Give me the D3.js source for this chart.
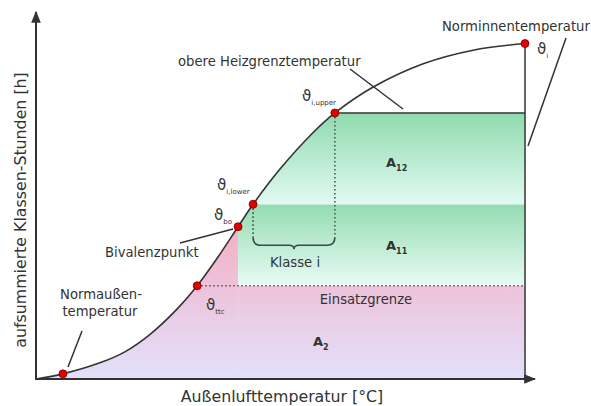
<!DOCTYPE html>
<html>
<head>
<meta charset="utf-8">
<script src="https://cdn.jsdelivr.net/npm/d3@7"></script>
<style>
  body { margin: 0; background: #fff; }
  svg { display: block; font-family: "DejaVu Sans", Verdana, sans-serif; }
  text { fill: #333; }
</style>
</head>
<body>
<svg id="chart" width="591" height="406"></svg>
<script>
// summed class hours over outdoor temperature (abstract units 0..100)
const curveT = [0, 5.4, 12.8, 17.8, 22.8, 28.3, 32.3, 36.3, 40.5, 43.5, 48.9, 55.5, 59.9, 67.5, 77.6, 87.6, 98.0];
const curveH = [0, 1.4, 4.4, 7.4, 12.1, 19.1, 25.4, 32.9, 41.5, 47.6, 57.2, 67.1, 72.5, 79.5, 85.9, 89.6, 91.4];
// marked points: Normaussen, Einsatzgrenze, Bivalenz, i,lower, i,upper, Norminnen
const markIdx = [1, 6, 8, 9, 12, 16];
const tEbc = curveT[6], hEbc = curveH[6];
const tBo = curveT[8], hBo = curveH[8];
const tLow = curveT[9], hLow = curveH[9];
const tUp = curveT[12], hUp = curveH[12];
const tIn = curveT[16], hIn = curveH[16];

const svg = d3.select('#chart');
const x = d3.scaleLinear().domain([0, 100]).range([36, 535]);
const y = d3.scaleLinear().domain([0, 100]).range([379, 12]);
const pts = curveT.map((t, i) => [t, curveH[i]]);

const defs = svg.append('defs');
function grad(id, y1, y2, c1, c2){
    let g = defs.append('linearGradient').attr('id', id)
        .attr('gradientUnits', 'userSpaceOnUse')
        .attr('x1', 0).attr('x2', 0).attr('y1', y1).attr('y2', y2);
    g.append('stop').attr('offset', 0).attr('stop-color', c1);
    g.append('stop').attr('offset', 1).attr('stop-color', c2);
}
grad('gPink', y(hBo), y(0), '#f4b0c6', '#e3e0fb');
grad('gA11', y(hLow), y(hEbc), '#94dcb0', '#e8fbf6');
grad('gA12', y(hUp), y(hLow), '#8fdaad', '#e2faf3');

// clip = area under curve
const area = d3.area().x(d => x(d[0])).y0(y(0)).y1(d => y(d[1])).curve(d3.curveCatmullRom);
defs.append('clipPath').attr('id', 'under').append('path').datum(pts).attr('d', area);

const fills = svg.append('g').attr('clip-path', 'url(#under)');
function band(t0, t1, h0, h1, fill){
    fills.append('rect')
        .attr('x', x(t0)).attr('width', x(t1) - x(t0))
        .attr('y', y(h1)).attr('height', y(h0) - y(h1))
        .attr('fill', fill);
}
band(0, tBo, 0, 100, 'url(#gPink)');
band(tBo, tIn, 0, hEbc, 'url(#gPink)');
band(tBo, tIn, hEbc, hLow, 'url(#gA11)');
band(tBo, tIn, hLow, hUp, 'url(#gA12)');

// dotted helper lines
const dot = svg.append('g').attr('stroke', '#4a5a50').attr('stroke-width', 1.6).attr('stroke-dasharray', '1.6,2.4').attr('fill', 'none');
dot.append('line').attr('x1', x(tEbc)).attr('x2', x(tIn)).attr('y1', y(hEbc)).attr('y2', y(hEbc)).attr('stroke', '#6a5060');
const braceY = y(hLow) + 41;
dot.append('line').attr('x1', x(tLow)).attr('x2', x(tLow)).attr('y1', y(hLow)).attr('y2', braceY - 8);
dot.append('line').attr('x1', x(tUp)).attr('x2', x(tUp)).attr('y1', y(hUp)).attr('y2', braceY - 8);

// curly brace "Klasse i"
const bx0 = x(tLow), bx1 = x(tUp), bm = (bx0 + bx1) / 2;
svg.append('path')
    .attr('d', `M${bx0},${braceY - 8} Q${bx0},${braceY} ${bx0 + 8},${braceY} L${bm - 5},${braceY} Q${bm},${braceY} ${bm},${braceY + 4} Q${bm},${braceY} ${bm + 5},${braceY} L${bx1 - 8},${braceY} Q${bx1},${braceY} ${bx1},${braceY - 8}`)
    .attr('fill', 'none').attr('stroke', '#3d4a42').attr('stroke-width', 1.6);

// solid lines
const ink = '#333';
svg.append('line').attr('x1', x(tUp)).attr('x2', x(tIn)).attr('y1', y(hUp)).attr('y2', y(hUp))
    .attr('stroke', ink).attr('stroke-width', 1.5);
svg.append('line').attr('x1', x(tIn)).attr('x2', x(tIn)).attr('y1', y(hIn)).attr('y2', y(0))
    .attr('stroke', ink).attr('stroke-width', 1.5);
const line = d3.line().x(d => x(d[0])).y(d => y(d[1])).curve(d3.curveCatmullRom);
svg.append('path').datum(pts).attr('d', line).attr('fill', 'none').attr('stroke', ink).attr('stroke-width', 1.6);

// axes with arrows
defs.append('marker').attr('id', 'arr').attr('viewBox', '0 0 10 10').attr('refX', 9).attr('refY', 5)
    .attr('markerWidth', 6).attr('markerHeight', 6).attr('orient', 'auto')
    .append('path').attr('d', 'M0,1 L10,5 L0,9 Z').attr('fill', ink);
svg.append('line').attr('x1', x(0)).attr('x2', x(0)).attr('y1', y(0) + 1).attr('y2', y(100))
    .attr('stroke', ink).attr('stroke-width', 2).attr('marker-end', 'url(#arr)');
svg.append('line').attr('x1', x(0) - 1).attr('x2', x(100)).attr('y1', y(0)).attr('y2', y(0))
    .attr('stroke', ink).attr('stroke-width', 2).attr('marker-end', 'url(#arr)');

// leader lines
const leaders = [
    [350, 69, 403, 109],
    [566, 38, 528, 146],
    [180, 243, 233, 229],
    [82, 331, 68, 367]
];
svg.append('g').selectAll('line').data(leaders).join('line')
    .attr('x1', d => d[0]).attr('y1', d => d[1]).attr('x2', d => d[2]).attr('y2', d => d[3])
    .attr('stroke', ink).attr('stroke-width', 1.5);

// red points
svg.append('g').selectAll('circle').data(markIdx).join('circle')
    .attr('cx', i => x(curveT[i])).attr('cy', i => y(curveH[i])).attr('r', 4)
    .attr('fill', '#e10000').attr('stroke', '#7a0000').attr('stroke-width', 0.8);

// texts
function label(tx, ty, s, size, anchor){
    return svg.append('text').attr('x', tx).attr('y', ty).attr('font-size', size)
        .attr('text-anchor', anchor || 'start').text(s);
}
function sym(tx, ty, base, sub, size, subSize){
    let t = svg.append('text').attr('x', tx).attr('y', ty).attr('font-size', size);
    t.append('tspan').text(base);
    t.append('tspan').attr('dy', 4).attr('font-size', subSize).text(sub);
    return t;
}
label(178, 66, 'obere Heizgrenztemperatur', 13.2);
label(442, 31, 'Norminnentemperatur', 13.2);
label(105, 257, 'Bivalenzpunkt', 13.2);
label(101, 299, 'Normaußen-', 13.2, 'middle');
label(100, 316, 'temperatur', 13.2, 'middle');
label(366, 304, 'Einsatzgrenze', 13.2, 'middle');
label(295, 267, 'Klasse i', 13.2, 'middle');
label(282, 402, 'Außenlufttemperatur [°C]', 15.8, 'middle');
svg.append('text').attr('transform', 'translate(26,210) rotate(-90)').attr('text-anchor', 'middle')
    .attr('font-size', 15.8).text('aufsummierte Klassen-Stunden [h]');

sym(386, 167, 'A', '12', 13, 8).attr('font-weight', 'bold');
sym(386, 250, 'A', '11', 13, 8).attr('font-weight', 'bold');
sym(313, 346, 'A', '2', 13, 8).attr('font-weight', 'bold');
sym(537, 54, 'ϑ', 'i', 15, 7);
sym(302, 101, 'ϑ', 'i,upper', 15, 7);
sym(217, 190, 'ϑ', 'i,lower', 15, 7);
sym(214, 220, 'ϑ', 'bo', 15, 7);
sym(206, 310, 'ϑ', 'ttc', 15, 7);
</script>
</body>
</html>
